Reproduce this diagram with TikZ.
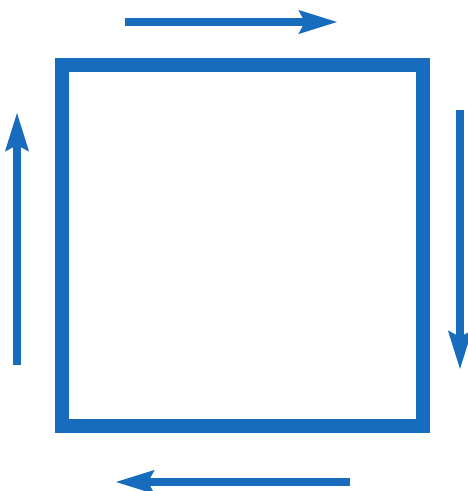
\documentclass[tikz,border=0pt]{standalone}
\usetikzlibrary{arrows.meta}
\definecolor{pen}{RGB}{24,108,190}
\begin{document}
\begin{tikzpicture}[x=1pt,y=-1pt]

            % Frame of the picture
            \useasboundingbox (0,0) rectangle (468,491);

            % Square
            \draw[pen, line width=14pt, line join=miter] (61.5,64.5) rectangle (423,426);

            % Arrows round the square, clockwise
            \tikzset{turn/.style={pen, line width=8.5pt, -{Stealth[length=38pt, width=22pt, inset=5pt]}}}
            \draw[turn] (125,22) -- (338,22);
            \draw[turn] (460,110) -- (460,370);
            \draw[turn] (350,482) -- (115,482);
            \draw[turn] (17,365) -- (17,112);

\end{tikzpicture}
\end{document}
